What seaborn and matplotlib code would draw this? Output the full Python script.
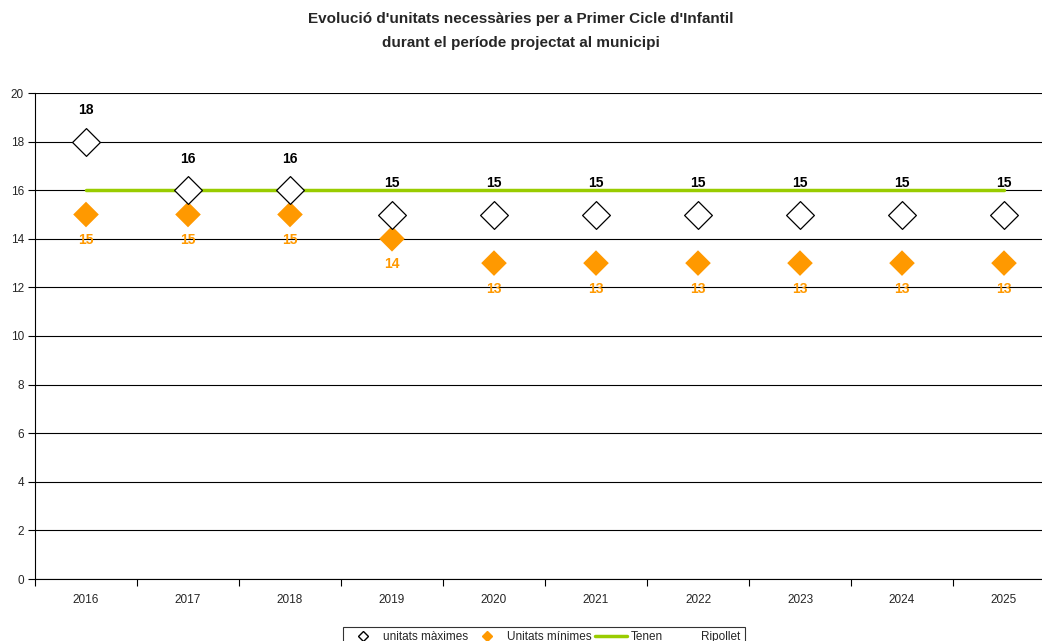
import matplotlib
matplotlib.use("Agg")
import matplotlib.pyplot as plt
import seaborn as sns
import pandas as pd
from matplotlib.lines import Line2D

# dades llegides del gràfic
anys = ["2016", "2017", "2018", "2019", "2020", "2021", "2022", "2023", "2024", "2025"]
unitats_maximes = [18, 16, 16, 15, 15, 15, 15, 15, 15, 15]
unitats_minimes = [15, 15, 15, 14, 13, 13, 13, 13, 13, 13]
tenen = [16, 16, 16, 16, 16, 16, 16, 16, 16, 16]

df = pd.DataFrame({
    "pos": range(len(anys)),
    "any": anys,
    "max": unitats_maximes,
    "min": unitats_minimes,
    "tenen": tenen,
})

sns.set_style("white")
plt.rcParams["font.family"] = ["Liberation Sans", "DejaVu Sans"]

fig = plt.figure(figsize=(10.42, 6.41), dpi=100)
# l'eix continua més enllà del marge dret (com a l'original)
ax = fig.add_axes([35 / 1042, 1 - 579 / 641, 1020 / 1042, 486 / 641])

sns.lineplot(data=df, x="pos", y="tenen", color="#99cc00", linewidth=2.5, ax=ax, zorder=2)
sns.scatterplot(data=df, x="pos", y="min", marker="D", s=170, color="#ff9900",
                edgecolor="none", ax=ax, zorder=3)
sns.scatterplot(data=df, x="pos", y="max", marker="D", s=200, facecolor="white",
                edgecolor="black", linewidth=0.9, ax=ax, zorder=4)

for i, row in df.iterrows():
    ax.text(row["pos"], row["max"] + 1.3, str(row["max"]), ha="center", va="center",
            fontsize=10, fontweight="bold", color="black", zorder=5)
    ax.text(row["pos"], row["min"] - 1.05, str(row["min"]), ha="center", va="center",
            fontsize=10, fontweight="bold", color="#ff9900", zorder=5)

ax.set_xlim(-0.5, 9.5)
ax.set_ylim(0, 20)
ax.set_yticks(range(0, 21, 2))
ax.set_xticks(range(len(anys)))
ax.set_xticklabels(anys)
ax.set_xticks([i + 0.5 for i in range(-1, 10)], minor=True)
ax.tick_params(axis="x", which="major", bottom=True, length=0, pad=11, labelsize=8.5)
ax.tick_params(axis="x", which="minor", bottom=True, length=5, direction="out",
               color="black", width=0.8)
ax.tick_params(axis="y", left=True, length=5, direction="out", color="black", width=0.8,
               labelsize=8.5, pad=3)
ax.set_xlabel("")
ax.set_ylabel("")
ax.grid(axis="y", color="black", linewidth=0.8)
ax.set_axisbelow(True)
for s in ["top", "right"]:
    ax.spines[s].set_visible(False)
ax.spines["left"].set_color("black")
ax.spines["bottom"].set_color("black")

fig.text(0.5, 1 - 19 / 641, "Evolució d'unitats necessàries per a Primer Cicle d'Infantil",
         ha="center", va="center", fontsize=11, fontweight="bold")
fig.text(0.5, 1 - 43 / 641, "durant el període projectat al municipi",
         ha="center", va="center", fontsize=11, fontweight="bold")

handles = [
    Line2D([], [], marker="D", linestyle="none", markerfacecolor="white",
           markeredgecolor="black", markersize=5),
    Line2D([], [], marker="D", linestyle="none", color="#ff9900", markersize=5),
    Line2D([], [], color="#99cc00", linewidth=2.5),
    Line2D([], [], linestyle="none"),
]
labels = ["unitats màximes", "Unitats mínimes", "Tenen", "Ripollet"]
leg = fig.legend(handles, labels, loc="upper center", ncol=4,
                 bbox_to_anchor=(544 / 1042, 1 - 621 / 641), fontsize=8.5,
                 frameon=True, fancybox=False, edgecolor="black",
                 handlelength=2.7, columnspacing=0.3, handletextpad=0.3,
                 borderpad=0.35)
leg.get_frame().set_linewidth(0.8)

fig.savefig("out.png", dpi=100)
